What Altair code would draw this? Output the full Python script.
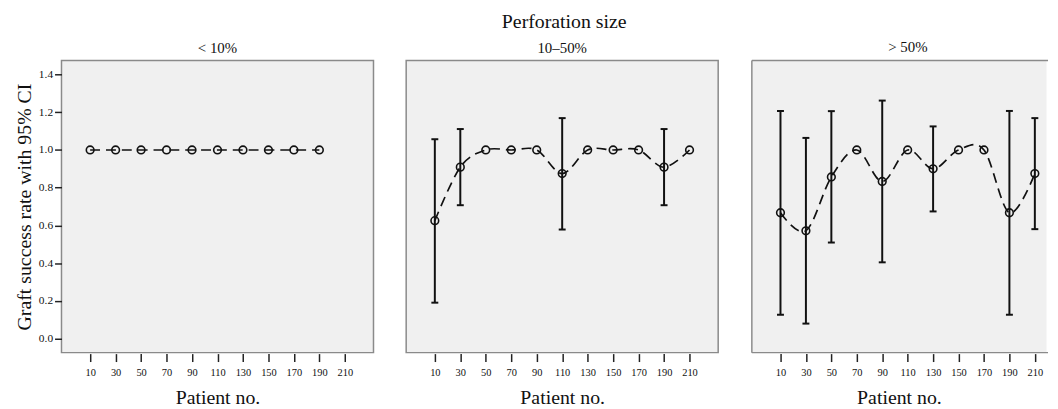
import altair as alt
import pandas as pd

sizes = ["< 10%", "10–50%", "> 50%"]

patients1 = [10, 30, 50, 70, 90, 110, 130, 150, 170, 190]
rate1 = [1.0, 1.0, 1.0, 1.0, 1.0, 1.0, 1.0, 1.0, 1.0, 1.0]
lo1 = [None, None, None, None, None, None, None, None, None, None]
hi1 = [None, None, None, None, None, None, None, None, None, None]

patients2 = [10, 30, 50, 70, 90, 110, 130, 150, 170, 190, 210]
rate2 = [0.625, 0.909, 1.0, 1.0, 1.0, 0.875, 1.0, 1.0, 1.0, 0.909, 1.0]
lo2 = [0.19, 0.707, None, None, None, 0.578, None, None, None, 0.707, None]
hi2 = [1.057, 1.111, None, None, None, 1.169, None, None, None, 1.111, None]

patients3 = [10, 30, 50, 70, 90, 110, 130, 150, 170, 190, 210]
rate3 = [0.667, 0.571, 0.857, 1.0, 0.833, 1.0, 0.9, 1.0, 1.0, 0.667, 0.875]
lo3 = [0.126, 0.079, 0.509, None, 0.404, None, 0.674, None, None, 0.126, 0.58]
hi3 = [1.207, 1.064, 1.206, None, 1.262, None, 1.125, None, None, 1.207, 1.169]

x_ticks = [10, 30, 50, 70, 90, 110, 130, 150, 170, 190, 210]
y_ticks = [0.0, 0.2, 0.4, 0.6, 0.8, 1.0, 1.2, 1.4]

FONT = "Liberation Serif"
INK = "#111"
FRAME = "#8a8a8a"
PANEL_H = 295


def make_df(ps, rs, ls, hs):
    return pd.DataFrame({"patient": ps, "rate": rs, "lo": ls, "hi": hs})


def make_panel(df, title, width, xmax, show_y, full_frame, title_dx):
    xscale = alt.Scale(domain=[-12.5, xmax], nice=False, zero=False)
    yscale = alt.Scale(domain=[-0.075, 1.475], nice=False, zero=False)
    xenc = alt.X(
        "patient:Q", scale=xscale, title="Patient no.",
        axis=alt.Axis(
            values=x_ticks, tickCount=20, domain=False, grid=False, tickSize=8,
            tickWidth=1.5, tickColor="#222", labelFont=FONT, labelFontSize=10.5,
            labelColor=INK, labelPadding=6, labelOverlap=False, titleFont=FONT,
            titleFontSize=20, titleFontWeight="normal", titleColor=INK,
            titlePadding=10, offset=1,
        ),
    )
    if show_y:
        yaxis = alt.Axis(
            values=y_ticks, tickCount=20, format=".1f", domain=False, grid=False,
            tickSize=7, tickWidth=1.5, tickColor="#222", labelFont=FONT,
            labelFontSize=11.5, labelColor=INK, labelPadding=2, labelOverlap=False,
            titleFont=FONT, titleFontSize=20, titleFontWeight="normal",
            titleColor=INK, titlePadding=4,
        )
        yenc = alt.Y("rate:Q", scale=yscale, title="Graft success rate with 95% CI", axis=yaxis)
    else:
        yenc = alt.Y("rate:Q", scale=yscale, axis=None)

    base = alt.Chart(df)
    line = base.mark_line(
        color=INK, strokeDash=[10, 6], strokeWidth=1.7, interpolate="cardinal"
    ).encode(x=xenc, y=yenc)
    valid = "isValid(datum.lo)"
    rule = base.transform_filter(valid).mark_rule(color=INK, strokeWidth=2).encode(
        x="patient:Q", y="lo:Q", y2="hi:Q"
    )
    cap_lo = base.transform_filter(valid).mark_tick(
        color=INK, orient="horizontal", size=7, thickness=2, opacity=1
    ).encode(x="patient:Q", y="lo:Q")
    cap_hi = base.transform_filter(valid).mark_tick(
        color=INK, orient="horizontal", size=7, thickness=2, opacity=1
    ).encode(x="patient:Q", y="hi:Q")
    pts = base.mark_point(
        shape="circle", filled=False, size=60, strokeWidth=1.6, color=INK, opacity=1
    ).encode(x="patient:Q", y="rate:Q")

    layers = [line, rule, cap_lo, cap_hi, pts]
    if full_frame:
        view = alt.ViewBackground(stroke=FRAME, strokeWidth=1.5, fill="#f0f0f0")
    else:
        view = alt.ViewBackground(stroke="transparent", fill="#f0f0f0")
        one = alt.Chart(pd.DataFrame({"k": [0]}))
        top = one.mark_rule(color=FRAME, strokeWidth=1.5).encode(
            x=alt.value(0), x2=alt.value(width + 2), y=alt.value(0))
        bottom = one.mark_rule(color=FRAME, strokeWidth=1.5).encode(
            x=alt.value(0), x2=alt.value(width + 2), y=alt.value(PANEL_H))
        left = one.mark_rule(color=FRAME, strokeWidth=1.5).encode(
            x=alt.value(0), y=alt.value(0), y2=alt.value(PANEL_H))
        layers += [top, bottom, left]

    return alt.layer(*layers).properties(
        width=width, height=PANEL_H, view=view,
        title=alt.TitleParams(
            title, font=FONT, fontSize=15, fontWeight="normal", color=INK,
            anchor="middle", offset=5, dx=title_dx,
        ),
    )


p1 = make_panel(make_df(patients1, rate1, lo1, hi1), sizes[0], 315, 232.5, True, True, 0)
p2 = make_panel(make_df(patients2, rate2, lo2, hi2), sizes[1], 315, 232.5, False, True, 0)
p3 = make_panel(make_df(patients3, rate3, lo3, hi3), sizes[2], 297, 218.8, False, False, 9)

chart = alt.hconcat(p1, p2, p3, spacing=31).properties(
    title=alt.TitleParams(
        "Perforation size", font=FONT, fontSize=20, fontWeight="normal",
        color=INK, anchor="middle", offset=7, dx=33,
    ),
    padding={"left": 5, "top": 2, "right": 0, "bottom": 0},
).configure(background="white")

chart.save("out.html", embed_options={"renderer": "svg", "actions": False})
